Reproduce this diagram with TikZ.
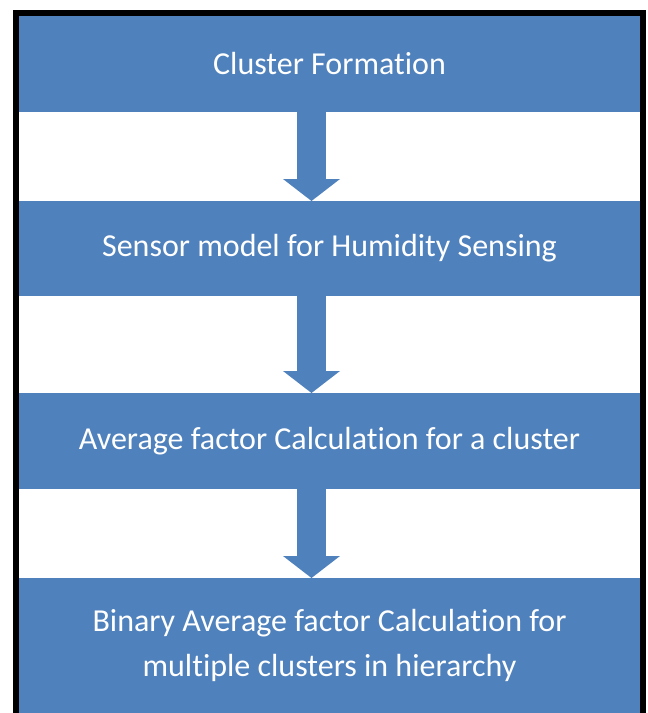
\documentclass[tikz,border=0pt]{standalone}
\usepackage{fontspec}
\setmainfont[Ligatures=NoCommon]{Carlito}
\usetikzlibrary{positioning,arrows.meta}
\definecolor{stepblue}{HTML}{4F81BD}
\begin{document}
\begin{tikzpicture}[x=1pt, y=-1pt, node distance={89pt},
	main/.style = {draw=none, fill=stepblue, text=white, rectangle, inner sep=0pt, outer sep=0pt, minimum width=621pt, minimum height=96pt, align=center, font=\fontsize{32}{45}\selectfont},
	flow/.style = {stepblue, line width=29pt, -{Triangle[width=57pt, length=22pt, line width=0pt]}}]
	\useasboundingbox (0,0) rectangle (648,713);
	% outer frame, open at the bottom
	\draw[line width=6pt] (16,713) -- (16,13) -- (643,13) -- (643,713);
	\node[main] (1) at (329.5,64) {Cluster Formation};
	\node[main] (2) [below=89pt of 1, minimum height=95pt] {Sensor model for Humidity Sensing};
	\node[main] (3) [below=97pt of 2] {Average factor Calculation for a cluster};
	\node[main] (4) [below=89pt of 3, minimum height=135pt] {Binary Average factor Calculation for\\multiple clusters in hierarchy};
	\path
	([xshift=-18pt]1.south) edge[flow] ([xshift=-18pt]2.north)
	([xshift=-18pt]2.south) edge[flow] ([xshift=-18pt]3.north)
	([xshift=-18pt]3.south) edge[flow] ([xshift=-18pt]4.north);
\end{tikzpicture}
\end{document}
